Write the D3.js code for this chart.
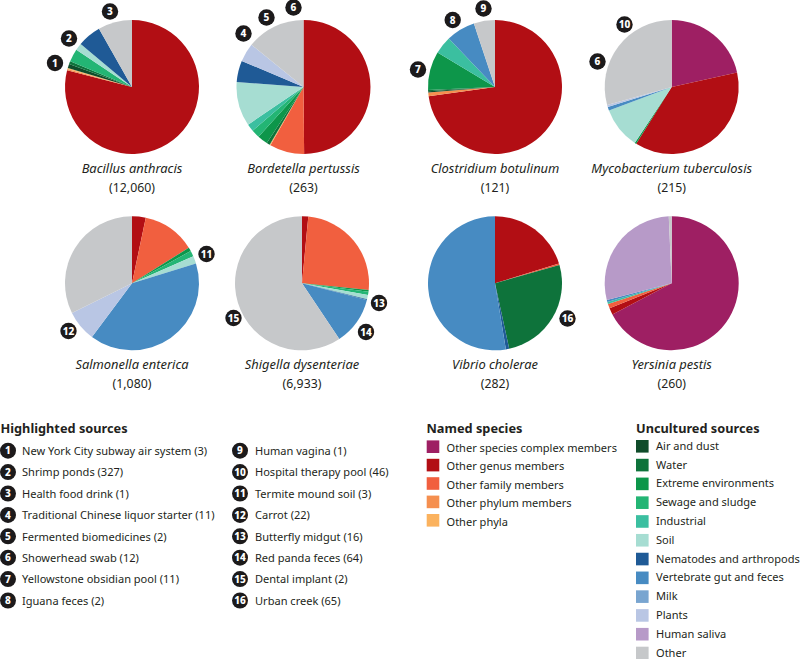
<!DOCTYPE html>
<html><head><meta charset="utf-8">
<script src="https://cdnjs.cloudflare.com/ajax/libs/d3/7.8.5/d3.min.js"></script>
<style>html,body{margin:0;padding:0;background:#fff}svg{display:block}text{font-family:"Noto Sans",Lato,sans-serif;fill:#231f20}</style>
</head><body><svg id="c" width="800" height="659"></svg>
<script>
const namedSpecies = ["Other species complex members","Other genus members","Other family members","Other phylum members","Other phyla"];
const unculturedSources = ["Air and dust","Water","Extreme environments","Sewage and sludge","Industrial","Soil","Nematodes and arthropods","Vertebrate gut and feces","Milk","Plants","Human saliva","Other"];
const categories = namedSpecies.concat(unculturedSources);
const palette = ["#9e1f63","#b20e14","#f15f3f","#f58f4f","#fbb25e","#0f4c2a","#0e733b","#0d964a","#23b574","#3bbfa0","#a6ddd2","#1f5a96","#478bc2","#79a5d0","#b9c6e4","#b79ac8","#c6c8ca"];

const species = ["Bacillus anthracis","Bordetella pertussis","Clostridium botulinum","Mycobacterium tuberculosis","Salmonella enterica","Shigella dysenteriae","Vibrio cholerae","Yersinia pestis"];
const genomeCounts = ["12,060","263","121","215","1,080","6,933","282","260"];
// percentage per category, same order as `categories`
const bacillus =     [0,  79,   0,   .3, .3, 1,  .7, 0,   3.1, 0,   1.7, 5.7, 0,   0, 0,  0,   8.2];
const bordetella =   [0,  50,   8.4, 0,  .2, 0,  .8, 2.5, 2,   1.8, 10.7,5.2, 0,   0, 4.5,0,   14.2];
const clostridium =  [0,  72.8, 0,   .9, 0,  .3, .3, 9.3, 0,   4.3, 0,   0,   7,   0, 0,  0,   5.1];
const mycobacterium =[21.5,37.4,0,   0,  0,  0,  0,  .4,  0,   0,   10,  0,   .9,  0, .5, 0,   29.3];
const salmonella =   [0,  3.3,  12.8,0,  0,  0,  0,  .9,  1.4, 0,   1.8, 0,   40,  0, 7.5,0,   32.3];
const shigella =     [0,  1.5,  25.1,0,  0,  0,  0,  .4,  .8,  0,   1,   .2,  11.6,0, 0,  0,   59.4];
const vibrio =       [0,  20.2, .4,  0,  0,  0,  26, 0,   0,   0,   0,   .8,  52.6,0, 0,  0,   0];
const yersinia =     [67.3,1.6, 1.1, 0,  0,  0,  0,  0,   0,   .5,  0,   0,   .5,  0, 0,  28.3,.7];
const pieValues = [bacillus,bordetella,clostridium,mycobacterium,salmonella,shigella,vibrio,yersinia];

const highlighted = ["New York City subway air system (3)","Shrimp ponds (327)","Health food drink (1)","Traditional Chinese liquor starter (11)","Fermented biomedicines (2)","Showerhead swab (12)","Yellowstone obsidian pool (11)","Iguana feces (2)","Human vagina (1)","Hospital therapy pool (46)","Termite mound soil (3)","Carrot (22)","Butterfly midgut (16)","Red panda feces (64)","Dental implant (2)","Urban creek (65)"];
const badgeNumbers = [1,2,3,4,5,6,7,8,9,10,6,11,12,13,14,15,16];
const badgePie =     [0,0,0,1,1,1,2,2,2,3,3,4,4,5,5,5,6];

// layout
const cxs = [132,303.5,495,671.7, 132,302,495,671.7];
const cys = [87,87,87,87, 283.3,283.3,283.3,283.3];
const R = 67;
const badgeOffset = [[-77,-24],[-63,-48.5],[-22,-75.5],[-60,-53.5],[-37,-69.5],[-10,-79.5],[-77,-17.5],[-42.3,-67],[-11.5,-78.5],[-47.2,-62.5],[-74.2,-25.5],[74.5,-29.3],[-63.5,47.7],[77,19.7],[64,48.7],[-68.5,34.7],[72.5,35.2]];
const bodySize = 11.05, titleSize = 12.75;

const svg = d3.select("#c");
const color = d3.scaleOrdinal(categories, palette);
const pie = d3.pie().sort(null).value(d => d.v);
const arc = d3.arc().innerRadius(0).outerRadius(R);

pieValues.forEach((vals,i) => {
  const g = svg.append("g").attr("transform",`translate(${cxs[i]},${cys[i]})`);
  g.selectAll("path").data(pie(vals.map((v,k)=>({v,c:categories[k]})).filter(d=>d.v>0))).join("path")
    .attr("d",arc).attr("fill",d=>color(d.data.c));
  g.append("text").attr("text-anchor","middle").attr("y",86).attr("font-size",12.9).attr("font-style","italic").text(species[i]);
  g.append("text").attr("text-anchor","middle").attr("y",104.5).attr("font-size",12.3).text("("+genomeCounts[i]+")");
});

function badge(sel,x,y,n,r){
  sel.append("circle").attr("cx",x).attr("cy",y).attr("r",r).attr("fill","#1c1a1b");
  sel.append("text").attr("x",x).attr("y",y+3.6).attr("text-anchor","middle").attr("font-size",10).attr("font-weight",800).style("fill","#fff").text(n);
}
badgeNumbers.forEach((n,i)=>{
  const p = badgePie[i];
  badge(svg, cxs[p]+badgeOffset[i][0], cys[p]+badgeOffset[i][1], n, 8.2);
});

// Highlighted sources
svg.append("text").attr("x",0.5).attr("y",432.5).attr("font-size",titleSize).attr("font-weight",700).text("Highlighted sources");
const hScale = d3.scaleLinear().domain([0,7]).range([450.7,600.5]);
highlighted.forEach((t,i)=>{
  const col = i<8?0:1, row = i%8, y = hScale(row);
  badge(svg, col?240:8, y, i+1, 8);
  svg.append("text").attr("x",col?255:22).attr("y",y+4.2).attr("font-size",bodySize).text(t);
});

// Named species
svg.append("text").attr("x",426.5).attr("y",432.5).attr("font-size",titleSize).attr("font-weight",700).text("Named species");
const nScale = d3.scaleLinear().domain([0,4]).range([446.7,520.3]);
namedSpecies.forEach((t,i)=>{
  const y=nScale(i);
  svg.append("rect").attr("x",426.7).attr("y",y-6.3).attr("width",12.6).attr("height",12.6).attr("fill",color(t));
  svg.append("text").attr("x",446.5).attr("y",y+5.2).attr("font-size",bodySize).text(t);
});

// Uncultured sources
svg.append("text").attr("x",636).attr("y",432.5).attr("font-size",titleSize).attr("font-weight",700).text("Uncultured sources");
const uScale = d3.scaleLinear().domain([0,11]).range([446.3,653]);
unculturedSources.forEach((t,i)=>{
  const y=uScale(i);
  svg.append("rect").attr("x",636).attr("y",y-6.3).attr("width",12.6).attr("height",12.6).attr("fill",color(t));
  svg.append("text").attr("x",656).attr("y",y+3.6).attr("font-size",bodySize).text(t);
});
</script></body></html>
